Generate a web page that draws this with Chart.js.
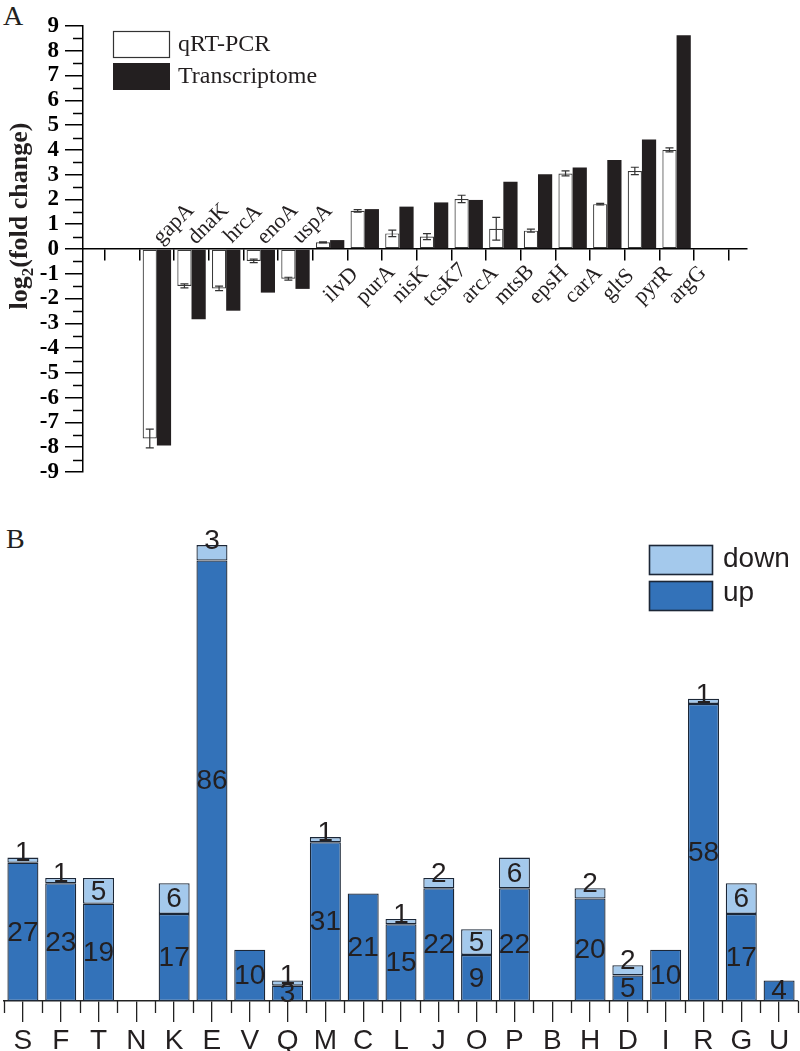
<!DOCTYPE html>
<html>
<head>
<meta charset="utf-8">
<script src="https://cdn.jsdelivr.net/npm/chart.js@4.4.1/dist/chart.umd.min.js"></script>
<style>
  html, body { margin: 0; padding: 0; background: #fff; }
  body { width: 800px; height: 1051px; position: relative; overflow: hidden; }
  #cA { position: absolute; left: 0; top: 0; }
  #cB { position: absolute; left: 0; top: 510px; }
  .plab { position: absolute; font-family: "Liberation Serif", serif; font-size: 28px; line-height: 28px; color: #231f20; }
</style>
</head>
<body>
<div class="plab" style="left:3px; top:2px;">A</div>
<div class="plab" style="left:6px; top:525px;">B</div>
<canvas id="cA" width="800" height="510"></canvas>
<canvas id="cB" width="800" height="541"></canvas>
<script>
// ---------- Panel A data ----------
const genes = ['gapA','dnaK','hrcA','enoA','uspA','ilvD','purA','nisK','tcsK7','arcA','mtsB','epsH','carA','gltS','pyrR','argG'];
const qrtpcr = [-7.65, -1.49, -1.59, -0.48, -1.20, 0.27, 1.54, 0.63, 0.50, 2.02, 0.82, 0.74, 3.05, 1.81, 3.15, 4.00];
const qrtpcrErr = [0.38, 0.08, 0.09, 0.07, 0.06, 0.02, 0.05, 0.13, 0.12, 0.15, 0.46, 0.06, 0.10, 0.03, 0.15, 0.08];
const transcriptome = [-7.93, -2.84, -2.49, -1.76, -1.61, 0.36, 1.61, 1.71, 1.88, 1.98, 2.71, 3.02, 3.29, 3.59, 4.42, 8.63];
const seriesA = ['qRT-PCR', 'Transcriptome'];

// ---------- Panel B data ----------
const cogCats = ['S','F','T','N','K','E','V','Q','M','C','L','J','O','P','B','H','D','I','R','G','U'];
const upCounts = [27,23,19,0,17,86,10,3,31,21,15,22,9,22,0,20,5,10,58,17,4];
const downCounts = [1,1,5,0,6,3,0,1,1,0,1,2,5,6,0,2,2,0,1,6,0];
const seriesB = ['down', 'up'];

const INK = '#231f20';
const SERIF = '"Liberation Serif", "Times New Roman", serif';
const SANS = '"Liberation Sans", Arial, sans-serif';

// ---------- Panel A plugin ----------
const panelAPlugin = {
  id: 'panelA',
  afterDatasetsDraw(chart) {
    const ctx = chart.ctx;
    const xs = chart.scales.x, ys = chart.scales.y;
    const y0 = ys.getPixelForValue(0);
    ctx.save();
    // error bars on qRT-PCR bars
    const meta = chart.getDatasetMeta(0);
    ctx.strokeStyle = '#333';
    ctx.lineWidth = 1.2;
    meta.data.forEach((el, i) => {
      const v = qrtpcr[i], e = qrtpcrErr[i];
      const ya = ys.getPixelForValue(v - e), yb = ys.getPixelForValue(v + e);
      const x = el.x;
      ctx.beginPath();
      ctx.moveTo(x, ya); ctx.lineTo(x, yb);
      ctx.moveTo(x - 4, ya); ctx.lineTo(x + 4, ya);
      ctx.moveTo(x - 4, yb); ctx.lineTo(x + 4, yb);
      ctx.stroke();
    });
    // minor y ticks
    ctx.strokeStyle = '#000';
    ctx.lineWidth = 1.5;
    const ax = chart.chartArea.left;
    for (let v = -8.5; v < 9; v += 1) {
      const y = Math.round(ys.getPixelForValue(v)) + 0.5;
      ctx.beginPath(); ctx.moveTo(ax - 10, y); ctx.lineTo(ax, y); ctx.stroke();
    }
    // gene labels
    ctx.fillStyle = INK;
    ctx.font = '22px ' + SERIF;
    ctx.textAlign = 'center';
    ctx.textBaseline = 'middle';
    genes.forEach((g, i) => {
      const x = xs.getPixelForValue(i + 1);
      const neg = transcriptome[i] < 0;
      const cx = neg ? x + 17 : x + 11;
      const cy = neg ? y0 - 25 : y0 + 36;
      ctx.save();
      ctx.translate(cx, cy);
      ctx.rotate(-Math.PI / 4);
      ctx.fillText(g, 0, 0);
      ctx.restore();
    });
    // legend
    ctx.lineWidth = 1.2;
    ctx.fillStyle = '#fff'; ctx.strokeStyle = '#333';
    ctx.fillRect(113.5, 31.5, 56, 26); ctx.strokeRect(113.5, 31.5, 56, 26);
    ctx.fillStyle = INK;
    ctx.fillRect(113, 63, 57, 27);
    ctx.font = '24px ' + SERIF;
    ctx.textAlign = 'left';
    ctx.textBaseline = 'middle';
    ctx.fillText(seriesA[0], 178, 45);
    ctx.fillText(seriesA[1], 178, 77);
    // y axis title with subscript
    ctx.save();
    ctx.translate(19, 216);
    ctx.rotate(-Math.PI / 2);
    ctx.textBaseline = 'alphabetic';
    const fMain = 'bold 26px ' + SERIF, fSub = 'bold 17px ' + SERIF;
    ctx.font = fMain; const w1 = ctx.measureText('log').width; const w3 = ctx.measureText('(fold change)').width;
    ctx.font = fSub; const w2 = ctx.measureText('2').width;
    let sx = -(w1 + w2 + w3) / 2;
    ctx.font = fMain; ctx.fillText('log', sx, 8); sx += w1;
    ctx.font = fSub; ctx.fillText('2', sx, 14); sx += w2;
    ctx.font = fMain; ctx.fillText('(fold change)', sx, 8);
    ctx.restore();
    ctx.restore();
  }
};

new Chart(document.getElementById('cA'), {
  type: 'bar',
  data: {
    datasets: [
      { label: seriesA[0], data: genes.map((g, i) => ({ x: i + 1, y: qrtpcr[i] })),
        backgroundColor: '#ffffff', borderColor: '#3a3a3a', borderWidth: 1.2, borderSkipped: false },
      { label: seriesA[1], data: genes.map((g, i) => ({ x: i + 1, y: transcriptome[i] })),
        backgroundColor: INK, borderWidth: 0 }
    ]
  },
  options: {
    responsive: false, animation: false, devicePixelRatio: 1,
    layout: { padding: { top: 26, right: 53, bottom: 38, left: 0 } },
    datasets: { bar: { barPercentage: 1, categoryPercentage: 0.82 } },
    plugins: { legend: { display: false }, tooltip: { enabled: false } },
    scales: {
      x: {
        type: 'linear', min: -0.6, max: 17.5, position: { y: 0 },
        afterBuildTicks: s => { s.ticks = Array.from({ length: 18 }, (_, k) => ({ value: k })); },
        ticks: { display: false },
        grid: { drawOnChartArea: false, tickLength: 11, color: '#000', lineWidth: 1.5 },
        border: { color: '#000', width: 1.5 }
      },
      y: {
        min: -9, max: 9,
        ticks: { stepSize: 1, autoSkip: false, color: '#000', padding: 6, font: { family: SERIF, size: 23, weight: 'bold' } },
        grid: { drawOnChartArea: false, tickLength: 18, color: '#000', lineWidth: 1.5 },
        border: { color: '#000', width: 1.5 },
        afterFit: s => { s.width = 83; }
      }
    }
  },
  plugins: [panelAPlugin]
});

// ---------- Panel B plugin ----------
const UP_COL = '#3372b9', DOWN_COL = '#a4c9ec', EDGE = '#1c2737';
const panelBPlugin = {
  id: 'panelB',
  afterDatasetsDraw(chart) {
    const ctx = chart.ctx;
    const xs = chart.scales.x, ys = chart.scales.y;
    ctx.save();
    // minor ticks at category boundaries
    const yAxis = chart.chartArea.bottom;
    const slot = xs.getPixelForValue(1) - xs.getPixelForValue(0);
    ctx.strokeStyle = '#222'; ctx.lineWidth = 1.3;
    for (let k = 0; k <= cogCats.length; k++) {
      const x = Math.round(xs.getPixelForValue(0) - slot / 2 + k * slot) + 0.5;
      ctx.beginPath(); ctx.moveTo(x, yAxis); ctx.lineTo(x, yAxis + 12); ctx.stroke();
    }
    // value labels
    ctx.fillStyle = INK;
    ctx.font = '28px ' + SANS;
    ctx.textAlign = 'center'; ctx.textBaseline = 'middle';
    cogCats.forEach((c, i) => {
      const x = xs.getPixelForValue(i);
      const u = upCounts[i], d = downCounts[i];
      if (u > 0) {
        const yc = (ys.getPixelForValue(0) + ys.getPixelForValue(u)) / 2;
        ctx.fillText(String(u), x, yc + 1);
      }
      if (d > 0) {
        const yt = ys.getPixelForValue(u + d), yb = ys.getPixelForValue(u);
        const yc = (yb - yt) < 22 ? yt - 4 : (yt + yb) / 2 + 1;
        ctx.fillText(String(d), x, yc);
      }
    });
    // legend
    ctx.lineWidth = 1.6; ctx.strokeStyle = EDGE;
    ctx.fillStyle = DOWN_COL; ctx.fillRect(649.5, 35.5, 63, 29); ctx.strokeRect(649.5, 35.5, 63, 29);
    ctx.fillStyle = UP_COL; ctx.fillRect(649.5, 71.5, 63, 29); ctx.strokeRect(649.5, 71.5, 63, 29);
    ctx.fillStyle = INK; ctx.textAlign = 'left'; ctx.textBaseline = 'middle';
    ctx.font = '28px ' + SANS;
    ctx.fillText(seriesB[0], 723, 49);
    ctx.fillText(seriesB[1], 723, 83);
    ctx.restore();
  }
};

new Chart(document.getElementById('cB'), {
  type: 'bar',
  data: {
    labels: cogCats,
    datasets: [
      { label: seriesB[1], data: upCounts, backgroundColor: UP_COL, borderColor: EDGE, borderWidth: 1.3, borderSkipped: false },
      { label: seriesB[0], data: downCounts, backgroundColor: DOWN_COL, borderColor: EDGE, borderWidth: 1.3, borderSkipped: false }
    ]
  },
  options: {
    responsive: false, animation: false, devicePixelRatio: 1,
    layout: { padding: { top: 30, right: 2, bottom: 0, left: 4 } },
    datasets: { bar: { barPercentage: 0.82, categoryPercentage: 1 } },
    plugins: { legend: { display: false }, tooltip: { enabled: false } },
    scales: {
      x: {
        stacked: true,
        ticks: { color: INK, padding: 2, font: { family: SANS, size: 28 } },
        grid: { drawOnChartArea: false, offset: false, tickLength: 21, color: '#222', lineWidth: 1.3 },
        border: { color: '#222', width: 1.5 },
        afterFit: s => { s.height = 50; }
      },
      y: { stacked: true, display: false, min: 0, max: 90 }
    }
  },
  plugins: [panelBPlugin]
});
</script>
</body>
</html>
